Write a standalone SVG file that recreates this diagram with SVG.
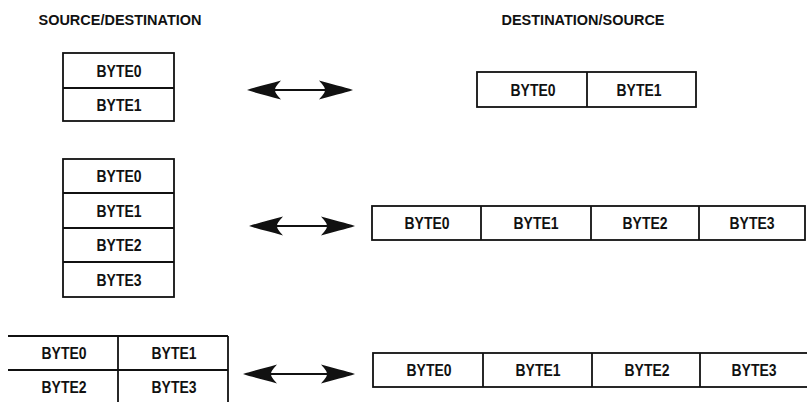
<svg xmlns="http://www.w3.org/2000/svg" xmlns:xlink="http://www.w3.org/1999/xlink" width="807" height="402" viewBox="0 0 807 402">
<style>
.b{fill:#fff;stroke:#111;stroke-width:1.8}
.l{stroke:#111;stroke-width:1.8;fill:none}
.t{font-family:"Liberation Sans",Arial,sans-serif;font-weight:bold;font-size:16px;fill:#111;text-anchor:middle}
.h{font-family:"Liberation Sans",Arial,sans-serif;font-weight:bold;font-size:14.5px;fill:#111;text-anchor:middle}
.s{stroke:#111;stroke-width:2.2}
.ah{fill:#111}
</style>
<defs>
<path id="ah" d="M0,0 C9,-3 22,-6 34,-9.5 C29,-4 28,-2 28,0 C28,2 29,4 34,9.5 C22,6 9,3 0,0 Z"/>
</defs>
<rect width="807" height="402" fill="#fff"/>
<text class="h" x="120" y="25" textLength="163" lengthAdjust="spacingAndGlyphs">SOURCE/DESTINATION</text>
<text class="h" x="583" y="25" textLength="163" lengthAdjust="spacingAndGlyphs">DESTINATION/SOURCE</text>

<g id="src1">
<rect class="b" x="63" y="53" width="111" height="68"/>
<line class="l" x1="63" y1="88" x2="174" y2="88"/>
<text class="t" x="119" y="77" textLength="45" lengthAdjust="spacingAndGlyphs">BYTE0</text>
<text class="t" x="119" y="111" textLength="45" lengthAdjust="spacingAndGlyphs">BYTE1</text>
</g>

<g id="dst1">
<rect class="b" x="477" y="72" width="219" height="35"/>
<line class="l" x1="587" y1="72" x2="587" y2="107"/>
<text class="t" x="533" y="96" textLength="45" lengthAdjust="spacingAndGlyphs">BYTE0</text>
<text class="t" x="639" y="96" textLength="45" lengthAdjust="spacingAndGlyphs">BYTE1</text>
</g>

<g id="src2">
<rect class="b" x="63" y="159" width="111" height="138"/>
<line class="l" x1="63" y1="193" x2="174" y2="193"/>
<line class="l" x1="63" y1="228" x2="174" y2="228"/>
<line class="l" x1="63" y1="262" x2="174" y2="262"/>
<text class="t" x="119" y="182" textLength="45" lengthAdjust="spacingAndGlyphs">BYTE0</text>
<text class="t" x="119" y="217" textLength="45" lengthAdjust="spacingAndGlyphs">BYTE1</text>
<text class="t" x="119" y="251" textLength="45" lengthAdjust="spacingAndGlyphs">BYTE2</text>
<text class="t" x="119" y="286" textLength="45" lengthAdjust="spacingAndGlyphs">BYTE3</text>
</g>

<g id="dst2">
<rect class="b" x="372" y="206" width="433" height="34"/>
<line class="l" x1="481" y1="206" x2="481" y2="240"/>
<line class="l" x1="591" y1="206" x2="591" y2="240"/>
<line class="l" x1="699" y1="206" x2="699" y2="240"/>
<text class="t" x="427" y="229" textLength="45" lengthAdjust="spacingAndGlyphs">BYTE0</text>
<text class="t" x="536" y="229" textLength="45" lengthAdjust="spacingAndGlyphs">BYTE1</text>
<text class="t" x="645" y="229" textLength="45" lengthAdjust="spacingAndGlyphs">BYTE2</text>
<text class="t" x="752" y="229" textLength="45" lengthAdjust="spacingAndGlyphs">BYTE3</text>
</g>

<g id="src3">
<line class="l" x1="8" y1="336" x2="228" y2="336"/>
<line class="l" x1="8" y1="370" x2="228" y2="370"/>
<line class="l" x1="118" y1="336" x2="118" y2="403"/>
<line class="l" x1="228" y1="336" x2="228" y2="403"/>
<text class="t" x="64" y="359" textLength="45" lengthAdjust="spacingAndGlyphs">BYTE0</text>
<text class="t" x="174" y="359" textLength="45" lengthAdjust="spacingAndGlyphs">BYTE1</text>
<text class="t" x="64" y="393" textLength="45" lengthAdjust="spacingAndGlyphs">BYTE2</text>
<text class="t" x="174" y="393" textLength="45" lengthAdjust="spacingAndGlyphs">BYTE3</text>
</g>

<g id="dst3">
<rect class="b" x="373" y="353" width="440" height="34"/>
<line class="l" x1="483" y1="353" x2="483" y2="387"/>
<line class="l" x1="592" y1="353" x2="592" y2="387"/>
<line class="l" x1="700" y1="353" x2="700" y2="387"/>
<text class="t" x="429" y="376" textLength="45" lengthAdjust="spacingAndGlyphs">BYTE0</text>
<text class="t" x="538" y="376" textLength="45" lengthAdjust="spacingAndGlyphs">BYTE1</text>
<text class="t" x="647" y="376" textLength="45" lengthAdjust="spacingAndGlyphs">BYTE2</text>
<text class="t" x="754" y="376" textLength="45" lengthAdjust="spacingAndGlyphs">BYTE3</text>
</g>

<g id="connectors">
<line class="s" x1="268" y1="90" x2="333" y2="90"/>
<use class="ah" xlink:href="#ah" transform="translate(247,90)"/>
<use class="ah" xlink:href="#ah" transform="translate(353,90) scale(-1,1)"/>
<line class="s" x1="270" y1="226" x2="335" y2="226"/>
<use class="ah" xlink:href="#ah" transform="translate(249,226)"/>
<use class="ah" xlink:href="#ah" transform="translate(355,226) scale(-1,1)"/>
<line class="s" x1="264" y1="374" x2="335" y2="374"/>
<use class="ah" xlink:href="#ah" transform="translate(243,374)"/>
<use class="ah" xlink:href="#ah" transform="translate(355,374) scale(-1,1)"/>
</g>
</svg>
